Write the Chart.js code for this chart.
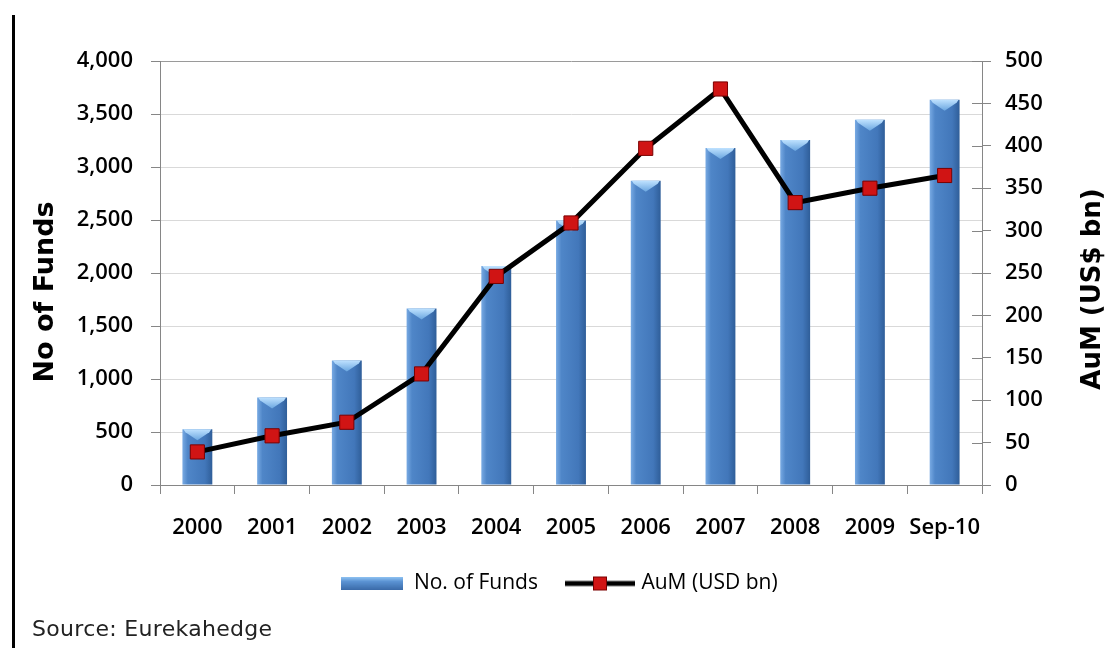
<!DOCTYPE html>
<html>
<head>
<meta charset="utf-8">
<script src="https://cdn.jsdelivr.net/npm/chart.js@4.4.0/dist/chart.umd.min.js"></script>
<style>
  body { margin: 0; background: #fff; }
  #wrap { position: relative; width: 1105px; height: 648px; }
  #leftRule { position: absolute; left: 12px; top: 15px; width: 3px; height: 633px; background: #000; }
  #source { position: absolute; left: 32px; top: 616px; font: 22px "DejaVu Sans", sans-serif; letter-spacing: 0.3px; color: #222; }
</style>
</head>
<body>
<div id="wrap">
  <canvas id="fundsChart"></canvas>
  <div id="leftRule"></div>
  <div id="source">Source: Eurekahedge</div>
</div>
<script>
const years = ['2000', '2001', '2002', '2003', '2004', '2005', '2006', '2007', '2008', '2009', 'Sep-10'];
const noOfFunds = [525, 825, 1175, 1665, 2065, 2495, 2870, 3180, 3255, 3445, 3635];
const aumUsdBn = [39, 58, 74, 131, 246, 309, 397, 467, 333, 350, 365];
const fundsAxisMax = 4000;
const fundsAxisStep = 500;
const aumAxisMax = 500;
const aumAxisStep = 50;

const tickFont = { family: '"Open Sans", sans-serif', size: 22, weight: '600' };

// little pictures for the legend
function barSwatch() {
  const c = document.createElement('canvas');
  c.width = 62; c.height = 13;
  const g = c.getContext('2d');
  const grad = g.createLinearGradient(0, 0, 0, 13);
  grad.addColorStop(0, '#8fc3f2');
  grad.addColorStop(0.35, '#5b93d3');
  grad.addColorStop(1, '#3a6aa8');
  g.fillStyle = grad;
  g.fillRect(0, 0, 62, 13);
  return c;
}

function lineSwatch() {
  const c = document.createElement('canvas');
  c.width = 70; c.height = 16;
  const g = c.getContext('2d');
  g.strokeStyle = '#000';
  g.lineWidth = 5;
  g.beginPath(); g.moveTo(0, 8); g.lineTo(70, 8); g.stroke();
  g.fillStyle = '#d01414';
  g.fillRect(28, 1, 14, 14);
  g.strokeStyle = '#7a0000';
  g.lineWidth = 1;
  g.strokeRect(28.5, 1.5, 13, 13);
  return c;
}

const barSwatchImg = barSwatch();
const lineSwatchImg = lineSwatch();

function barFill(c) {
  const chart = c.chart;
  const area = chart.chartArea;
  if (!area || c.dataIndex === undefined) return '#4f81bd';
  const x = chart.scales.x.getPixelForValue(c.dataIndex);
  const w = (area.right - area.left) / years.length * 0.4;
  const grad = chart.ctx.createLinearGradient(x - w / 2, 0, x + w / 2, 0);
  grad.addColorStop(0, '#78aae3');
  grad.addColorStop(0.18, '#4f86c8');
  grad.addColorStop(0.75, '#4277ba');
  grad.addColorStop(1, '#2f5e99');
  return grad;
}

function verticalTitle(ctx, text, x, y, size) {
  ctx.save();
  ctx.fillStyle = '#000';
  ctx.font = 'bold ' + size + 'px "DejaVu Sans", sans-serif';
  ctx.textAlign = 'center';
  ctx.textBaseline = 'middle';
  ctx.translate(x, y);
  ctx.rotate(-Math.PI / 2);
  ctx.fillText(text, 0, 0);
  ctx.restore();
}

const extras = {
  id: 'extras',
  afterDatasetDraw(chart, args) {
    if (args.index !== 0) return;
    const ctx = chart.ctx;
    ctx.save();
    args.meta.data.forEach(bar => {
      const p = bar.getProps(['x', 'y', 'width'], true);
      const l = p.x - p.width / 2, r = p.x + p.width / 2, t = p.y;
      const grad = ctx.createLinearGradient(0, t, 0, t + 11);
      grad.addColorStop(0, '#bfe2ff');
      grad.addColorStop(1, '#6aa6e0');
      ctx.fillStyle = grad;
      ctx.beginPath();
      ctx.moveTo(l + 1, t);
      ctx.lineTo(r - 1, t);
      ctx.lineTo(r - 3, t + 3);
      ctx.lineTo(p.x, t + 11);
      ctx.lineTo(l + 3, t + 3);
      ctx.closePath();
      ctx.fill();
    });
    ctx.restore();
  },
  afterDraw(chart) {
    const ctx = chart.ctx;
    const y1 = chart.scales.y1;
    ctx.save();
    // inner half of the right axis ticks
    ctx.strokeStyle = '#868686';
    ctx.lineWidth = 1;
    y1.ticks.forEach(t => {
      const y = Math.round(y1.getPixelForValue(t.value)) + 0.5;
      ctx.beginPath();
      ctx.moveTo(y1.left - 10, y);
      ctx.lineTo(y1.left, y);
      ctx.stroke();
    });
    ctx.restore();
    verticalTitle(ctx, 'No of Funds', 46, 292, 27);
    verticalTitle(ctx, 'AuM (US$ bn)', 1093, 289, 26);
  }
};

Chart.defaults.color = '#000';

new Chart(document.getElementById('fundsChart'), {
  type: 'bar',
  data: {
    labels: years,
    datasets: [{
      label: 'No. of Funds',
      data: noOfFunds,
      yAxisID: 'y',
      backgroundColor: barFill,
      barPercentage: 0.4,
      categoryPercentage: 1,
      order: 1
    }, {
      type: 'line',
      label: 'AuM (USD bn)',
      data: aumUsdBn,
      yAxisID: 'y1',
      borderColor: '#000',
      borderWidth: 5,
      tension: 0,
      pointStyle: 'rect',
      pointRadius: 10,
      pointBackgroundColor: '#d01414',
      pointBorderColor: '#7a0000',
      pointBorderWidth: 1,
      order: 0
    }]
  },
  options: {
    responsive: true,
    maintainAspectRatio: false,
    animation: false,
    layout: { padding: { top: 61, bottom: 44, left: 14, right: 0 } },
    plugins: {
      tooltip: { enabled: false },
      legend: {
        position: 'bottom',
        labels: {
          usePointStyle: true,
          pointStyleWidth: 62,
          padding: 31,
          font: { family: '"Open Sans", sans-serif', size: 21 },
          color: '#222',
          generateLabels(chart) {
            return chart.data.datasets.map((ds, i) => ({
              text: ds.label,
              datasetIndex: i,
              pointStyle: i === 0 ? barSwatchImg : lineSwatchImg,
              fillStyle: 'transparent',
              strokeStyle: 'transparent',
              lineWidth: 0,
              hidden: false
            }));
          }
        }
      }
    },
    scales: {
      x: {
        offset: true,
        afterFit(scale) { scale.height = 57; },
        grid: { offset: true, drawOnChartArea: false, tickLength: 9, color: '#868686' },
        border: { color: '#868686' },
        ticks: { font: tickFont, padding: 21, maxRotation: 0, autoSkip: false }
      },
      y: {
        position: 'left',
        min: 0,
        max: fundsAxisMax,
        afterFit(scale) { scale.width = 146; },
        grid: {
          color: c => (c.tick && c.tick.value === fundsAxisMax ? '#9a9a9a' : '#d9d9d9'),
          tickColor: '#868686',
          tickLength: 9
        },
        border: { color: '#868686' },
        ticks: {
          stepSize: fundsAxisStep,
          font: tickFont,
          padding: 18,
          callback: v => v.toLocaleString('en-US')
        }
      },
      y1: {
        position: 'right',
        min: 0,
        max: aumAxisMax,
        afterFit(scale) { scale.width = 123; },
        grid: { drawOnChartArea: false, tickColor: '#868686', tickLength: 9 },
        border: { color: '#868686' },
        ticks: { stepSize: aumAxisStep, font: tickFont, padding: 14 }
      }
    }
  },
  plugins: [extras]
});
</script>
</body>
</html>
